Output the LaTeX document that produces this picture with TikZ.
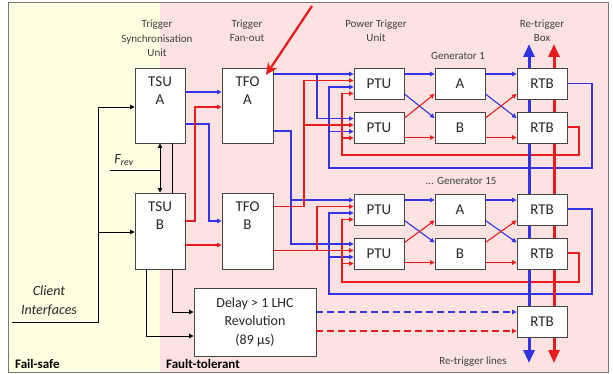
\documentclass[tikz,border=0pt]{standalone}
\usepackage{fontspec}
\setmainfont{Carlito}
\usetikzlibrary{arrows.meta}
\definecolor{blueL}{RGB}{50,50,230}
\definecolor{redL}{RGB}{232,28,28}
\definecolor{boxgray}{RGB}{70,70,70}
\definecolor{framegray}{RGB}{120,120,120}
\definecolor{yellowbg}{RGB}{255,255,225}
\definecolor{pinkbg}{RGB}{253,226,226}
\definecolor{labgray}{RGB}{64,64,64}
\pgfdeclarelayer{back}
\pgfdeclarelayer{thick}
\pgfsetlayers{back,thick,main}
\begin{document}
\begin{tikzpicture}[x=1pt,y=-1pt,
  box/.style={draw=boxgray,fill=white,line width=0.9pt,inner sep=0pt},
  ptubox/.style={box,minimum width=50pt,minimum height=31pt,font=\fontsize{15}{18}\selectfont,text=black!85},
  boxtext/.style={align=center,inner sep=0pt,font=\fontsize{15}{18}\selectfont,text=black!85},
  lab/.style={align=center,inner sep=0pt,font=\fontsize{11}{14.5}\selectfont,text=labgray},
  bl/.style={draw=blueL,line width=1.1pt},
  rd/.style={draw=redL,line width=1.1pt},
  blk/.style={draw=black,line width=0.9pt},
  arr/.style={-{Triangle[length=4.5pt,width=4.5pt]}},
  dash7/.style={dash pattern=on 7pt off 4pt},
  thickarr/.style={line width=3pt,{Triangle[length=13pt,width=11pt]}-{Triangle[length=13pt,width=11pt]}}
]
\useasboundingbox (0,0) rectangle (613,374);
\begin{pgfonlayer}{back}
  \fill[yellowbg] (8,3) rectangle (160,372);
  \fill[pinkbg] (160,3) rectangle (608,372);
\end{pgfonlayer}
\draw[framegray,line width=1pt] (8,3) rectangle (608,372);

% headings
\node[lab] (lTSU) at (157,38.5) {Trigger\\Synchronisation\\Unit};
\node[lab] (lTFO) at (247,31) {Trigger\\Fan-out};
\node[lab] (lPTU) at (376,31) {Power Trigger\\Unit};
\node[lab] (lRTB) at (542,31) {Re-trigger\\Box};
\node[lab] (lG1) at (458,56) {Generator 1};
\node[lab] (lG15) at (461,181) {... Generator 15};
\node[lab] (lRL) at (473,362) {Re-trigger lines};
\node[anchor=west,inner sep=0pt,font=\fontsize{13}{15}\selectfont\bfseries] (lFS) at (15,364) {Fail-safe};
\node[anchor=west,inner sep=0pt,font=\fontsize{13}{15}\selectfont\bfseries] (lFT) at (166,364) {Fault-tolerant};
\node[align=center,inner sep=0pt,font=\fontsize{14}{19}\selectfont\itshape,text=black!85] (lCI) at (49,300.5) {Client\\Interfaces};
\node[inner sep=0pt,font=\fontsize{14}{16}\selectfont\itshape,text=black!85] (lF) at (124,160) {F\textsubscript{rev}};

% boxes
\node[box,minimum width=50pt,minimum height=75pt] (tsua) at (160,105.5) {};
\node[boxtext] (tsuaT) at (160,91) {TSU\\A};
\node[box,minimum width=50pt,minimum height=76pt] (tsub) at (160,231) {};
\node[boxtext] (tsubT) at (160,216) {TSU\\B};
\node[box,minimum width=51pt,minimum height=75pt] (tfoa) at (247.5,105.5) {};
\node[boxtext] (tfoaT) at (247.5,91) {TFO\\A};
\node[box,minimum width=51pt,minimum height=76pt] (tfob) at (247.5,231) {};
\node[boxtext] (tfobT) at (247.5,216) {TFO\\B};
\node[box,minimum width=122pt,minimum height=68pt,align=center,font=\fontsize{14}{18.5}\selectfont,text=black!85] (delay) at (255,322) {Delay > 1 LHC\\Revolution\\(89 µs)};

\node[ptubox] (ptu1) at (379,83.5) {PTU};
\node[ptubox] (ptu2) at (379,128) {PTU};
\node[ptubox] (a1) at (460,83.5) {A};
\node[ptubox] (b1) at (460,128) {B};
\node[ptubox] (rtb1) at (542,83.5) {RTB};
\node[ptubox] (rtb2) at (542,128) {RTB};
\node[ptubox] (ptu3) at (379,209.5) {PTU};
\node[ptubox] (ptu4) at (379,253.5) {PTU};
\node[ptubox] (a15) at (460,209.5) {A};
\node[ptubox] (b15) at (460,253.5) {B};
\node[ptubox] (rtb3) at (542,209.5) {RTB};
\node[ptubox] (rtb4) at (542,253.5) {RTB};
\node[ptubox] (rtb5) at (542,321.5) {RTB};

% thick re-trigger lines (behind boxes)
\coordinate (bTop) at (529,44);
\coordinate (bBot) at (529,363);
\coordinate (rTop) at (554,44);
\coordinate (rBot) at (554,363);
\begin{pgfonlayer}{thick}
  \draw[blueL,thickarr] (bBot) -- (bTop);
  \draw[redL,thickarr] (rBot) -- (rTop);
\end{pgfonlayer}

% big red arrow
\coordinate (bigS) at (312,6);
\coordinate (bigE) at (266,75);
\draw[redL,line width=2.3pt,-{Stealth[length=12pt,width=11pt]}] (bigS) -- (bigE);

% black connections
\coordinate (ci) at (12,322);
\draw[blk,arr] (ci) -| (98,107) -- (tsua.west |- 0,107);
\draw[blk,arr] (98,232) -- (tsub.west |- 0,232);
\draw[blk,{Triangle[length=4.5pt,width=4.5pt]}-{Triangle[length=4.5pt,width=4.5pt]}] (tsua.south) -- (tsub.north);
\coordinate (fr) at (110,170);
\draw[blk] (fr) -- (160,170);
\draw[blk] (tsua.south -| 172,0) -- (tsub.north -| 172,0);
\draw[blk,arr] (tsub.south -| 172,0) |- (delay.west |- 0,312);
\draw[blk,arr] (tsub.south -| 146,0) |- (delay.west |- 0,336);

% TSU -> TFO
\draw[bl,arr] (tsua.east |- 0,92) -- (tfoa.west |- 0,92);
\draw[bl,arr] (tsua.east |- 0,124) -| (209,221) -- (tfob.west |- 0,221);
\draw[rd,arr] (tsub.east |- 0,221) -| (195,107) -- (tfoa.west |- 0,107);
\draw[rd,arr] (tsub.east |- 0,245) -- (tfob.west |- 0,245);

% TFO -> PTU
\draw[bl,arr] (tfoa.east |- 0,74) -- (ptu1.west |- 0,74);
\draw[bl,arr] (317,74) |- (ptu2.west |- 0,118.5);
\draw[bl,arr] (tfoa.east |- 0,131) -| (291,244) -- (ptu4.west |- 0,244);
\draw[bl,arr] (291,200) -- (ptu3.west |- 0,200);
\draw[rd,arr] (tfob.east |- 0,206.5) -| (304,80.5) -- (ptu1.west |- 0,80.5);
\draw[rd,arr] (304,125) -- (ptu2.west |- 0,125);
\draw[rd,arr] (tfob.east |- 0,250.5) -- (ptu4.west |- 0,250.5);
\draw[rd,arr] (317,250.5) |- (ptu3.west |- 0,206.5);

% generator 1 crossings
\draw[bl,arr] (ptu1.east |- 0,74) -- (a1.west |- 0,74);
\draw[bl,arr] (ptu1.east |- 0,94) -- (b1.west |- 0,118);
\draw[rd,arr] (ptu2.east |- 0,118) -- (a1.west |- 0,94);
\draw[rd,arr] (ptu2.east |- 0,137.5) -- (b1.west |- 0,137.5);
\draw[bl,arr] (a1.east |- 0,74) -- (rtb1.west |- 0,74);
\draw[bl,arr] (a1.east |- 0,94) -- (rtb2.west |- 0,118);
\draw[rd,arr] (b1.east |- 0,118) -- (rtb1.west |- 0,94);
\draw[rd,arr] (b1.east |- 0,137.5) -- (rtb2.west |- 0,137.5);

% generator 15 crossings
\draw[bl,arr] (ptu3.east |- 0,200) -- (a15.west |- 0,200);
\draw[bl,arr] (ptu3.east |- 0,220.5) -- (b15.west |- 0,242.5);
\draw[rd,arr] (ptu4.east |- 0,242.5) -- (a15.west |- 0,220.5);
\draw[rd,arr] (ptu4.east |- 0,262.5) -- (b15.west |- 0,262.5);
\draw[bl,arr] (a15.east |- 0,200) -- (rtb3.west |- 0,200);
\draw[bl,arr] (a15.east |- 0,220.5) -- (rtb4.west |- 0,242.5);
\draw[rd,arr] (b15.east |- 0,242.5) -- (rtb3.west |- 0,220.5);
\draw[rd,arr] (b15.east |- 0,262.5) -- (rtb4.west |- 0,262.5);

% feedback loops (behind thick lines)
\begin{pgfonlayer}{back}
  \draw[bl,arr] (rtb1.east |- 0,83.5) -| (592,168) -| (329,87) -- (ptu1.west |- 0,87);
  \draw[bl,arr] (329,131.5) -- (ptu2.west |- 0,131.5);
  \draw[rd,arr] (rtb2.east |- 0,127) -| (579,155) -| (342,93.5) -- (ptu1.west |- 0,93.5);
  \draw[rd,arr] (342,138) -- (ptu2.west |- 0,138);
  \draw[bl,arr] (rtb3.east |- 0,209) -| (592,294) -| (329,213) -- (ptu3.west |- 0,213);
  \draw[bl,arr] (329,257) -- (ptu4.west |- 0,257);
  \draw[rd,arr] (rtb4.east |- 0,253) -| (579,282) -| (342,219.5) -- (ptu3.west |- 0,219.5);
  \draw[rd,arr] (342,263.5) -- (ptu4.west |- 0,263.5);
\end{pgfonlayer}

% delay -> RTB (dashed)
\draw[bl,arr,dash7] (delay.east |- 0,312) -- (rtb5.west |- 0,312);
\draw[rd,arr,dash7] (delay.east |- 0,331) -- (rtb5.west |- 0,331);
\end{tikzpicture}
\end{document}
